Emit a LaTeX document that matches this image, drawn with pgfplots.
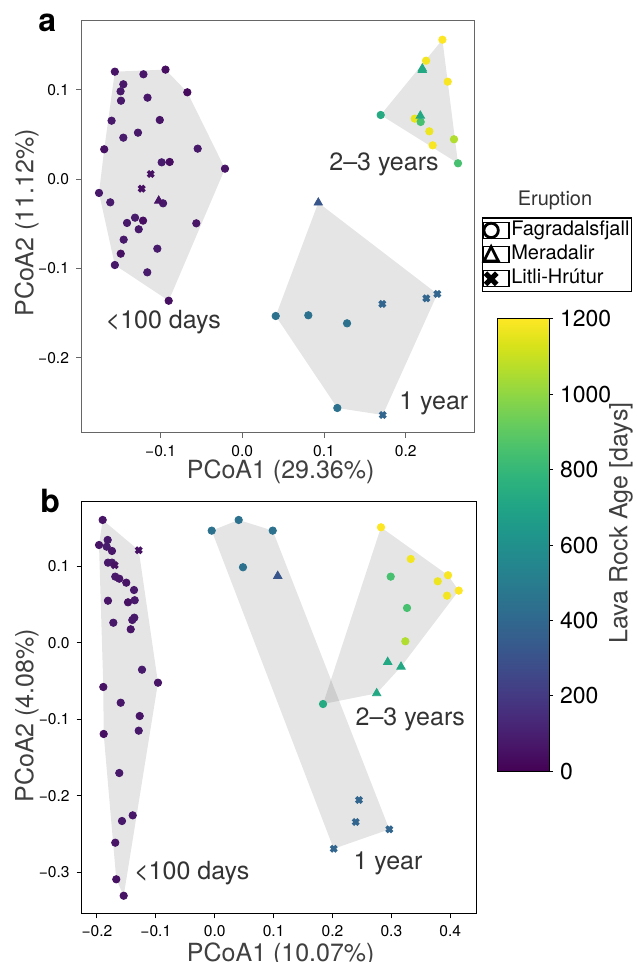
\documentclass[border=0pt]{standalone}
\usepackage{fontspec}
\setmainfont{TeX Gyre Heros}
\usepackage{pgfplots}
\usepackage{pgfplotstable}
\pgfplotsset{compat=1.18}

% ---------------- panel a data ----------------
\pgfplotstableread{
x y a
-0.1560 0.1205 60
-0.1210 0.1176 70
-0.0940 0.1228 40
-0.1456 0.1064 70
-0.1490 0.0985 80
-0.1485 0.0880 75
-0.1160 0.0914 70
-0.0673 0.0974 30
-0.1600 0.0656 75
-0.1010 0.0664 60
-0.1277 0.0522 75
-0.1456 0.0466 85
-0.1690 0.0336 55
-0.0546 0.0343 80
-0.0987 0.0190 85
-0.0889 0.0194 40
-0.0212 0.0119 60
-0.1754 -0.0153 80
-0.1616 -0.0258 85
-0.0970 -0.0269 80
-0.1313 -0.0430 85
-0.1411 -0.0489 75
-0.1215 -0.0463 40
-0.1268 -0.0560 75
-0.0563 -0.0493 65
-0.1452 -0.0676 80
-0.1488 -0.0833 50
-0.1040 -0.0777 85
-0.1560 -0.0960 80
-0.1163 -0.1042 85
-0.0901 -0.1360 45
0.2449 0.1563 1200
0.2249 0.1328 1180
0.2514 0.1093 1190
0.1694 0.0720 730
0.2110 0.0679 1160
0.2183 0.0642 850
0.2289 0.0537 1170
0.2591 0.0448 1060
0.2330 0.0380 1190
0.2640 0.0179 850
0.0409 -0.1531 450
0.0808 -0.1523 450
0.1282 -0.1613 450
0.1163 -0.2561 450
}\aCirc
\pgfplotstableread{
x y a
-0.1023 -0.0240 60
0.2203 0.1224 720
0.2203 0.1240 720
0.2179 0.0712 720
0.0930 -0.0262 320
}\aTri
\pgfplotstableread{
x y a
-0.1121 0.0059 50
-0.1231 -0.0105 50
0.2387 -0.1284 390
0.2252 -0.1333 390
0.1714 -0.1396 390
0.1719 -0.2639 390
}\aCross

% ---------------- panel b data ----------------
\pgfplotstableread{
x y a
-0.1902 0.1609 60
-0.1817 0.1347 80
-0.1964 0.1281 60
-0.1834 0.1259 85
-0.1744 0.1203 70
-0.1812 0.1050 70
-0.1744 0.1050 80
-0.1688 0.0867 75
-0.1620 0.0840 70
-0.1501 0.0788 60
-0.1370 0.0692 75
-0.1812 0.0552 65
-0.1472 0.0531 50
-0.1358 0.0558 80
-0.1721 0.0264 80
-0.1399 0.0300 75
-0.1365 0.0330 80
-0.1426 0.0178 65
-0.1234 -0.0351 85
-0.0963 -0.0521 60
-0.1891 -0.0577 55
-0.1596 -0.0783 70
-0.1273 -0.0957 60
-0.1290 -0.1149 80
-0.1885 -0.1192 45
-0.1620 -0.1703 75
-0.1392 -0.2257 70
-0.1574 -0.2331 75
-0.1688 -0.2615 65
-0.1671 -0.3094 50
-0.1545 -0.3309 60
-0.0051 0.1469 450
0.0407 0.1609 450
0.0985 0.1469 450
0.0480 0.0990 450
0.2823 0.1513 1200
0.3328 0.1098 1180
0.2988 0.0867 850
0.3961 0.0885 1190
0.3786 0.0806 1170
0.4143 0.0684 1200
0.3944 0.0618 1180
0.3265 0.0457 850
0.3236 0.0021 1060
0.1839 -0.0800 730
}\bCirc
\pgfplotstableread{
x y a
0.1070 0.0876 320
0.2937 -0.0250 720
0.3163 -0.0312 720
0.2750 -0.0660 720
}\bTri
\pgfplotstableread{
x y a
-0.1290 0.1212 50
-0.1698 0.1016 50
0.2450 -0.2056 390
0.2394 -0.2344 390
0.2964 -0.2440 390
0.2020 -0.2694 390
}\bCross

\definecolor{lab}{HTML}{404040}
\definecolor{ann}{HTML}{333333}

\pgfplotsset{
  panel/.style={
    scale only axis,
    tick pos=left, tick align=outside, major tick length=2.5pt,
    tick label style={font=\fontsize{7.8}{9}\selectfont, text=black},
    point meta min=0, point meta max=1200, colormap name=viridis,
    label style={font=\fontsize{12.5}{15}\selectfont, text=lab},
  },
  hull/.style={fill=black, fill opacity=0.1, draw=none, forget plot},
  pts/.style={scatter, only marks, forget plot, point meta=\thisrow{a},
    scatter/use mapped color={draw=mapped color, fill=mapped color}},
  circ/.style={pts, mark=*, mark size=1.85pt},
  tri/.style={pts, mark=triangle*, mark size=2.4pt},
  crs/.style={pts, mark=x, mark size=2.0pt, line width=1.7pt},
}

\begin{document}
\begin{tikzpicture}
% ================= panel a =================
\begin{axis}[panel,
  name=A, at={(40.5pt,264.5pt)}, anchor=south west,
  width=196.5pt, height=206pt,
  xmin=-0.19743, xmax=0.28360, ymin=-0.28410, ymax=0.17727,
  xtick={-0.1,0,0.1,0.2}, xticklabels={−0.1,0.0,0.1,0.2},
  ytick={-0.2,-0.1,0,0.1}, yticklabels={−0.2,−0.1,0.0,0.1},
  axis line style={line width=0.5pt, black!60},
  every tick/.style={black!60, line width=0.5pt},
  xlabel={PCoA1 (29.36\%)}, ylabel={PCoA2 (11.12\%)},
  xlabel style={at={(rel axis cs:0.508,-0.11)}, anchor=base},
  ylabel style={at={(rel axis cs:-0.121,0.51)}, anchor=base},
  legend style={at={(1.0196,0.5235)}, anchor=north west, draw=black, line width=0.6pt,
    fill=white, inner xsep=0pt, inner ysep=1.2pt, row sep=2pt, column sep=0pt,
    font=\fontsize{10}{12}\selectfont,
    nodes={inner xsep=0.9pt, inner ysep=0.3pt, text height=7.3pt, text depth=2.2pt}},
  legend cell align=left,
]
\addlegendimage{legend image code/.code={\path (0,-4pt) rectangle (13pt,4pt); \draw[black, line width=1.4pt] (4.1pt,0pt) circle (3.6pt);}}
\addlegendentry{Fagradalsfjall}
\addlegendimage{legend image code/.code={\path (0,-4pt) rectangle (13pt,4pt); \draw[black, line width=1.4pt, line join=miter] (0.5pt,-3.2pt) -- (7.7pt,-3.2pt) -- (4.1pt,3.9pt) -- cycle;}}
\addlegendentry{Meradalir}
\addlegendimage{legend image code/.code={\path (0,-4pt) rectangle (13pt,4pt); \draw[black, line width=2.6pt] (1.3pt,-2.8pt) -- (6.9pt,2.8pt) (1.3pt,2.8pt) -- (6.9pt,-2.8pt);}}
\addlegendentry{Litli-Hrútur}

\addplot[hull] coordinates {(-0.156,0.1205) (-0.094,0.1228) (-0.0673,0.0974) (-0.0212,0.0119) (-0.0901,-0.136) (-0.156,-0.096) (-0.1754,-0.0153) (-0.169,0.0336) (-0.156,0.1205)};
\addplot[hull] coordinates {(0.2449,0.1563) (0.2514,0.1093) (0.264,0.0179) (0.1694,0.072) (0.2449,0.1563)};
\addplot[hull] coordinates {(0.093,-0.0262) (0.2387,-0.1284) (0.1719,-0.2639) (0.1163,-0.2561) (0.0409,-0.1531) (0.093,-0.0262)};

\addplot[circ] table[x=x,y=y] {\aCirc};
\addplot[tri] table[x=x,y=y] {\aTri};
\addplot[crs] table[x=x,y=y] {\aCross};

\node[font=\fontsize{12.5}{15}\selectfont, text=ann, anchor=base] at (axis cs:-0.0967,-0.1669) {<100 days};
\node[font=\fontsize{12.5}{15}\selectfont, text=ann, anchor=base] at (axis cs:0.1735,0.0099) {2–3 years};
\node[font=\fontsize{12.5}{15}\selectfont, text=ann, anchor=base] at (axis cs:0.2344,-0.2583) {1 year};
\end{axis}

% ================= panel b =================
\begin{axis}[panel,
  name=B, at={(40.85pt,24.35pt)}, anchor=south west,
  width=197.5pt, height=205.8pt,
  xmin=-0.2258, xmax=0.4448, ymin=-0.3539, ymax=0.1848,
  xtick={-0.2,-0.1,0,0.1,0.2,0.3,0.4}, xticklabels={−0.2,−0.1,0.0,0.1,0.2,0.3,0.4},
  ytick={-0.3,-0.2,-0.1,0,0.1}, yticklabels={−0.3,−0.2,−0.1,0.0,0.1},
  axis line style={line width=0.5pt, black},
  every tick/.style={black, line width=0.5pt},
  xlabel={PCoA1 (10.07\%)}, ylabel={PCoA2 (4.08\%)},
  xlabel style={at={(rel axis cs:0.504,-0.1176)}, anchor=base},
  ylabel style={at={(rel axis cs:-0.1225,0.48)}, anchor=base},
]
\addplot[hull] coordinates {(-0.1902,0.1609) (-0.129,0.1212) (-0.0963,-0.0521) (-0.1545,-0.3309) (-0.1671,-0.3094) (-0.1885,-0.1192) (-0.1891,-0.0577) (-0.1964,0.1281) (-0.1902,0.1609)};
\addplot[hull] coordinates {(-0.0051,0.1469) (0.0407,0.1609) (0.0985,0.1469) (0.2964,-0.244) (0.202,-0.2694) (-0.0051,0.1469)};
\addplot[hull] coordinates {(0.2823,0.1513) (0.3961,0.0885) (0.4143,0.0684) (0.3163,-0.0312) (0.275,-0.066) (0.1839,-0.08) (0.2823,0.1513)};

\addplot[circ] table[x=x,y=y] {\bCirc};
\addplot[tri] table[x=x,y=y] {\bTri};
\addplot[crs] table[x=x,y=y] {\bCross};

\node[font=\fontsize{12.5}{15}\selectfont, text=ann, anchor=base] at (axis cs:-0.039,-0.3103) {<100 days};
\node[font=\fontsize{12.5}{15}\selectfont, text=ann, anchor=base] at (axis cs:0.3321,-0.1075) {2–3 years};
\node[font=\fontsize{12.5}{15}\selectfont, text=ann, anchor=base] at (axis cs:0.2942,-0.2966) {1 year};
\end{axis}

% ================= colorbar =================
\begin{axis}[
  at={(248.65pt,95.3pt)}, anchor=south west,
  scale only axis, width=25.85pt, height=226.2pt,
  hide axis, xmin=0, xmax=1, ymin=0, ymax=1,
  point meta min=0, point meta max=1200, colormap name=viridis,
  colorbar,
  colorbar shift/.style={},
  colorbar/width=25.85pt,
  colorbar style={
    at={(parent axis.south west)}, anchor=south west,
    ytick={0,200,400,600,800,1000,1200},
    yticklabels={0,200,400,600,800,1000,1200},
    ytick pos=right, yticklabel pos=right, tick align=outside, major tick length=2pt,
    tick label style={font=\fontsize{11.5}{13}\selectfont, text=black},
    axis line style={line width=0.5pt, black},
    every tick/.style={black, line width=0.5pt},
  },
]
\addplot[draw=none] coordinates {(0.5,0.5)};
\end{axis}

\node[rotate=90, anchor=base, font=\fontsize{12.5}{15}\selectfont, text=lab] at (313.65pt,219.5pt) {Lava Rock Age [days]};
\node[anchor=center, font=\fontsize{10}{12}\selectfont, text=ann] at (277.5pt,380.65pt) {Eruption};
\node[anchor=base west, font=\fontsize{16}{18}\bfseries, inner sep=0pt] at (19pt,465pt) {a};
\node[anchor=base west, font=\fontsize{16}{18}\bfseries, inner sep=0pt] at (20pt,224.5pt) {b};

\pgfresetboundingbox
\useasboundingbox (0,0) rectangle (318pt,481pt);
\end{tikzpicture}
\end{document}
